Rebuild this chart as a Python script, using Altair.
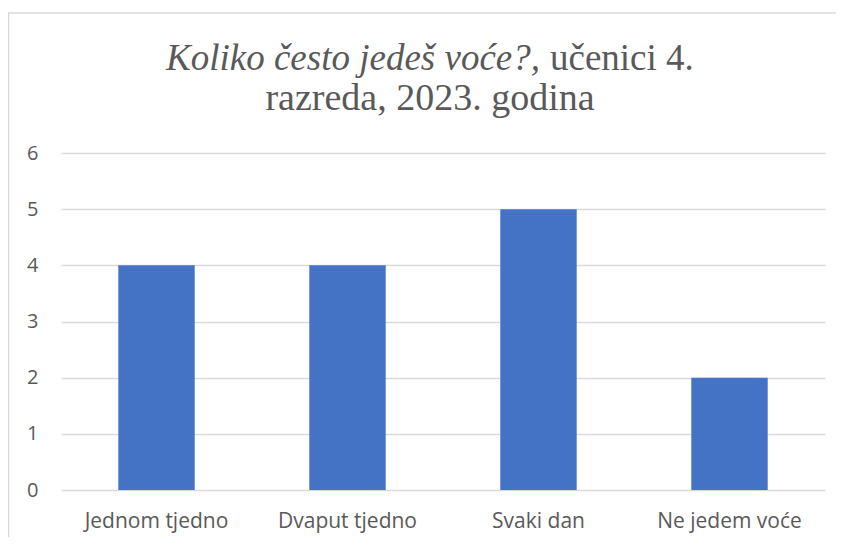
import altair as alt
import pandas as pd

categories = ["Jednom tjedno", "Dvaput tjedno", "Svaki dan", "Ne jedem voće"]
values = [4, 4, 5, 2]
title_italic = "Koliko često jedeš voće?,"
title_normal = "učenici 4."
title_line2 = "razreda, 2023. godina"

df = pd.DataFrame({"cat": categories, "val": values})

W, H = 764, 337
GRAY = "#595959"

bars = alt.Chart(df).mark_bar(color="#4472C4").encode(
    x=alt.X("cat:N", sort=categories, title=None,
            scale=alt.Scale(paddingInner=0.6, paddingOuter=0.3),
            axis=alt.Axis(labelAngle=0, ticks=False, domain=False,
                          labelPadding=20, labelFontSize=21, labelColor=GRAY,
                          labelFont="Open Sans")),
    y=alt.Y("val:Q", title=None, scale=alt.Scale(domain=[0, 6]),
            axis=alt.Axis(values=[0, 1, 2, 3, 4, 5, 6], ticks=False, domain=False,
                          labelPadding=23, labelFontSize=20, labelColor=GRAY,
                          labelFont="Open Sans", gridColor="#d9d9d9", gridWidth=1.3)),
)

t1 = alt.Chart(pd.DataFrame({"t": [title_italic]})).mark_text(
    font="Liberation Serif", fontSize=37, fontStyle="italic", color=GRAY,
    align="right", baseline="alphabetic").encode(
    text="t:N", x=alt.value(479), y=alt.value(-83))
t2 = alt.Chart(pd.DataFrame({"t": [title_normal]})).mark_text(
    font="Liberation Serif", fontSize=37, color=GRAY,
    align="left", baseline="alphabetic").encode(
    text="t:N", x=alt.value(489), y=alt.value(-83))
t3 = alt.Chart(pd.DataFrame({"t": [title_line2]})).mark_text(
    font="Liberation Serif", fontSize=38, color=GRAY,
    align="center", baseline="alphabetic").encode(
    text="t:N", x=alt.value(369), y=alt.value(-43))

border = alt.Chart(pd.DataFrame({"a": [0]})).mark_rect(
    fill="transparent", stroke="#d9d9d9", strokeWidth=1.5).encode(
    x=alt.value(-52.5), x2=alt.value(800), y=alt.value(-140), y2=alt.value(420))

chart = alt.layer(border, bars, t1, t2, t3).properties(
    width=W, height=H,
    autosize=alt.AutoSizeParams(type="none"),
    padding={"left": 53, "top": 145, "right": 11, "bottom": 47},
).configure(background="white").configure_view(stroke=None)

chart.save("out.html", embed_options={"renderer": "svg", "actions": False})
